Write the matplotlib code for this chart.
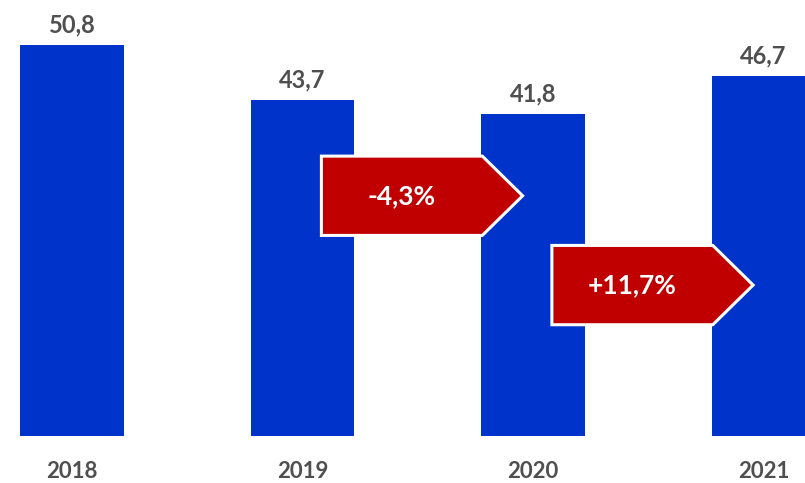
import matplotlib
matplotlib.use("Agg")
import matplotlib.pyplot as plt
from matplotlib.patches import Polygon

# Werte pro Jahr
jahre = ["2018", "2019", "2020", "2021"]
werte = [50.8, 43.7, 41.8, 46.7]
wert_labels = ["50,8", "43,7", "41,8", "46,7"]

# Veraenderungen (Pfeile zwischen den Balken)
pfeil_start = [1, 2]          # Index des Balkens, an dem der Pfeil beginnt
pfeil_labels = ["-4,3%", "+11,7%"]
pfeil_hoehe = [31.2, 19.6]    # Mitte des Pfeils in y

blau = "#0033C9"
rot = "#C00000"
grau = "#4F4F4F"

plt.rcParams["font.family"] = ["Lato", "DejaVu Sans"]

fig = plt.figure(figsize=(8.05, 4.83), dpi=100)
ax = fig.add_axes([0, 47 / 483, 1, 436 / 483])

x = list(range(len(jahre)))
ax.bar(x, werte, width=0.451, color=blau, zorder=1)

# Werte ueber den Balken
for xi, w, lab in zip(x, werte, wert_labels):
    ax.annotate(lab, (xi, w), xytext=(0, 9), textcoords="offset points",
                ha="center", va="baseline", fontsize=17, fontweight="bold",
                color=grau)

# Pfeile mit Prozentangaben
for i, lab, ym in zip(pfeil_start, pfeil_labels, pfeil_hoehe):
    links = x[i] + 0.082
    rechts = x[i] + 0.780
    spitze = x[i] + 0.955
    h = 5.15
    pts = [(links, ym - h), (rechts, ym - h), (spitze, ym),
           (rechts, ym + h), (links, ym + h)]
    ax.add_patch(Polygon(pts, closed=True, facecolor=rot, edgecolor="white",
                         linewidth=2.2, zorder=3, joinstyle="miter"))
    ax.text((links + rechts) / 2, ym, lab, ha="center", va="center",
            fontsize=19, fontweight="bold", color="white", zorder=4)

ax.set_xlim(-72 / 230.5, (805 - 72) / 230.5)
ax.set_ylim(0, 436 / 7.70)
ax.set_xticks(x)
ax.set_xticklabels(jahre, fontsize=16, fontweight="bold", color=grau)
ax.tick_params(axis="x", length=0, pad=18)
ax.set_yticks([])
for s in ax.spines.values():
    s.set_visible(False)

fig.savefig("out.png", dpi=100)
